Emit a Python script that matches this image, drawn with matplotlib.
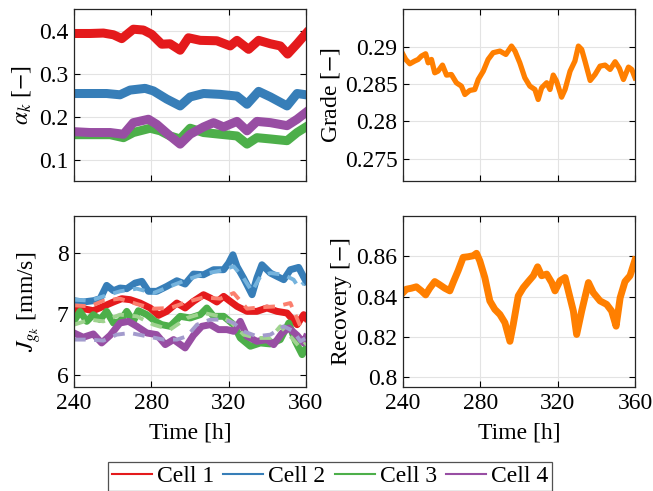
import numpy as np
import matplotlib
matplotlib.use("Agg")
import matplotlib.pyplot as plt

plt.rcParams['font.family'] = ['Liberation Serif', 'DejaVu Serif']
plt.rcParams['mathtext.fontset'] = 'stix'
plt.rcParams['font.size'] = 17

# couleurs des cellules
col_cell = ['#e41a1c', '#377eb8', '#4daf4a', '#984ea3']
col_ref = ['#fb7f6e', '#75b3dd', '#9fd38f', '#a39bcd']
col_orange = '#ff7f00'
noms = ['Cell 1', 'Cell 2', 'Cell 3', 'Cell 4']

# alpha_k des 4 cellules
t_a1 = [240, 248.3, 255.2, 260.4, 264.7, 270.7, 275.9, 280.2, 285.4, 289.7, 294.9, 299.2,
        305.3, 313.9, 320.8, 324.3, 330.3, 335.5, 341.6, 346.7, 350.5, 355.4, 360]
a1 = [0.394, 0.394, 0.395, 0.391, 0.382, 0.404, 0.402, 0.392, 0.369, 0.370, 0.355, 0.384,
      0.378, 0.377, 0.365, 0.378, 0.357, 0.378, 0.370, 0.365, 0.346, 0.370, 0.394]
t_a2 = [240, 248.3, 256.9, 263.8, 269.0, 276.8, 281.1, 288.0, 294.9, 300.1, 307.0, 315.6,
        324.3, 329.5, 335.5, 341.6, 350.2, 355.4, 360]
a2 = [0.254, 0.254, 0.254, 0.251, 0.262, 0.266, 0.260, 0.241, 0.225, 0.246, 0.254, 0.252,
      0.248, 0.229, 0.259, 0.246, 0.225, 0.254, 0.251]
t_a3 = [240, 248.3, 258.7, 265.6, 270.7, 279.4, 284.6, 289.7, 294.9, 300.1, 307.0, 315.6,
        324.3, 329.5, 334.6, 341.6, 350.2, 355.4, 360]
a3 = [0.158, 0.158, 0.158, 0.151, 0.163, 0.173, 0.167, 0.155, 0.148, 0.173, 0.163, 0.159,
      0.155, 0.136, 0.151, 0.148, 0.144, 0.163, 0.176]
t_a4 = [240, 248.3, 258.7, 265.6, 270.7, 278.5, 282.8, 289.7, 294.9, 300.1, 307.0, 312.2,
        317.4, 324.3, 329.5, 334.6, 341.6, 350.2, 355.4, 360]
a4 = [0.165, 0.163, 0.163, 0.159, 0.186, 0.194, 0.182, 0.155, 0.136, 0.159, 0.176, 0.186,
      0.176, 0.189, 0.167, 0.189, 0.186, 0.179, 0.194, 0.210]

# Jg mesures
t_j1 = [240, 244.8, 250.0, 255.2, 260.4, 264.7, 269.0, 274.2, 279.4, 283.7, 288.0, 293.2,
        297.5, 301.8, 307.0, 310.5, 313.9, 317.4, 320.8, 324.3, 329.5, 334.6, 339.8, 345.0,
        350.2, 355.4, 358.8, 360]
j1 = [7.071, 7.087, 7.054, 7.125, 7.196, 7.25, 7.234, 7.179, 7.098, 6.978, 7.043, 7.179,
      7.098, 7.207, 7.315, 7.261, 7.196, 7.288, 7.207, 7.125, 7.043, 7.043, 7.098, 7.043,
      7.016, 6.826, 6.989, 6.935]
t_j2 = [240, 244.8, 250.0, 253.5, 256.9, 260.4, 263.8, 267.3, 271.6, 275.1, 278.5, 282.8,
        288.0, 293.2, 297.5, 301.8, 307.0, 312.2, 317.4, 320.0, 322.2, 324.3, 327.7, 332.1,
        334.6, 337.2, 341.6, 345.0, 348.5, 351.9, 356.2, 360]
j2 = [7.217, 7.196, 7.217, 7.25, 7.467, 7.38, 7.424, 7.413, 7.505, 7.533, 7.37, 7.37,
      7.451, 7.543, 7.489, 7.652, 7.641, 7.723, 7.723, 7.832, 7.967, 7.777, 7.587, 7.315,
      7.587, 7.804, 7.668, 7.614, 7.56, 7.723, 7.761, 7.533]
t_j3 = [240, 243.1, 246.6, 250.0, 253.5, 256.9, 260.4, 263.8, 267.3, 270.7, 273.3, 277.7,
        282.0, 285.4, 289.7, 294.9, 300.1, 305.3, 308.7, 312.2, 317.4, 322.6, 326.0, 331.2,
        336.4, 341.6, 346.7, 351.1, 354.5, 358.0, 360]
j3 = [6.88, 7.043, 6.88, 6.989, 6.908, 7.043, 6.853, 6.88, 7.043, 6.88, 7.054, 6.989,
      6.88, 6.826, 6.799, 6.962, 6.935, 6.989, 7.098, 6.962, 6.962, 6.826, 6.609, 6.473,
      6.527, 6.511, 6.582, 6.853, 6.554, 6.337, 6.446]
t_j4 = [240, 244.8, 250.0, 254.3, 258.7, 263.8, 268.2, 272.5, 277.7, 282.8, 287.2, 291.5,
        297.5, 301.8, 306.1, 310.5, 314.8, 319.1, 322.6, 326.0, 329.5, 334.6, 339.8, 343.3,
        347.6, 351.1, 355.4, 358.8, 360]
j4 = [6.69, 6.62, 6.674, 6.527, 6.652, 6.853, 6.88, 6.799, 6.69, 6.663, 6.5, 6.582,
      6.446, 6.652, 6.799, 6.826, 6.745, 6.745, 6.717, 6.88, 6.636, 6.554, 6.582, 6.5,
      6.69, 6.772, 6.652, 6.527, 6.62]

# Jg consignes (pointillés)
t_r1 = [240, 248.3, 255.2, 263.8, 272.5, 281.1, 289.7, 298.4, 307.0, 315.6, 322.6, 329.5,
        336.4, 345.0, 351.9, 357.1, 360]
r1 = [7.141, 7.125, 7.217, 7.25, 7.163, 7.087, 7.098, 7.196, 7.272, 7.25, 7.342, 7.087,
      7.109, 7.125, 7.179, 6.799, 6.88]
t_r2 = [240, 248.3, 255.2, 263.8, 272.5, 281.1, 289.7, 298.4, 307.0, 315.6, 322.6, 327.7,
        332.1, 336.4, 341.6, 348.5, 353.6, 356.2, 358.8]
r2 = [7.234, 7.217, 7.288, 7.37, 7.413, 7.342, 7.451, 7.56, 7.652, 7.707, 7.777, 7.587,
      7.37, 7.614, 7.668, 7.641, 7.56, 7.435, 7.505]
t_r3 = [240, 248.3, 255.2, 263.8, 272.5, 281.1, 289.7, 298.4, 307.0, 315.6, 320.8, 327.7,
        334.6, 341.6, 346.7, 351.9, 357.1, 360]
r3 = [6.826, 6.908, 6.88, 6.989, 6.962, 6.826, 6.745, 6.935, 7.016, 6.962, 6.88, 6.663,
      6.609, 6.609, 6.799, 6.636, 6.446, 6.527]
t_r4 = [240, 248.3, 255.2, 262.1, 269.0, 277.7, 286.3, 293.2, 298.4, 303.6, 310.5, 317.4,
        322.6, 327.7, 334.6, 341.6, 348.5, 353.6, 357.1, 360]
r4 = [6.582, 6.582, 6.565, 6.663, 6.69, 6.636, 6.582, 6.582, 6.636, 6.826, 6.908, 6.908,
      6.853, 6.717, 6.636, 6.663, 6.799, 6.717, 6.554, 6.608]

# teneur du concentré
t_grade = [240, 241.4, 243.5, 246.0, 247.8, 249.5, 251.7, 253.0, 254.7, 256.4, 258.1, 260.4,
           262.5, 265.0, 267.6, 270.2, 272.0, 274.5, 277.1, 278.9, 281.5, 284.0, 286.6, 290.1,
           293.2, 296.1, 297.9, 300.4, 303.0, 305.6, 308.2, 309.9, 311.7, 314.3, 316.0, 317.7,
           319.4, 322.0, 323.8, 326.4, 328.9, 330.7, 332.4, 334.1, 336.8, 339.3, 341.9, 344.5,
           347.1, 349.7, 351.9, 354.0, 356.6, 358.3, 360]
grade = [0.28897, 0.2883, 0.28772, 0.28808, 0.2883, 0.28875, 0.28906, 0.28785, 0.2883,
         0.28651, 0.28673, 0.28754, 0.2862, 0.28628, 0.28517, 0.28472, 0.2836, 0.28414,
         0.28427, 0.28561, 0.28673, 0.2883, 0.2892, 0.28942, 0.28897, 0.29009, 0.28942,
         0.28785, 0.28584, 0.28472, 0.28427, 0.28293, 0.2845, 0.28517, 0.28427, 0.2862,
         0.28539, 0.28324, 0.28427, 0.28673, 0.28808, 0.29009, 0.28964, 0.28808, 0.28548,
         0.28628, 0.2874, 0.28754, 0.28696, 0.28799, 0.2871, 0.28561, 0.28727, 0.28696,
         0.28584]

# récupération
t_rec = [240, 241.7, 244.3, 246.9, 249.5, 251.7, 253.8, 256.4, 259.0, 261.6, 264.2, 265.9,
         268.5, 271.1, 273.7, 276.3, 278.0, 279.7, 282.3, 284.9, 287.5, 290.1, 292.7, 295.3,
         297.0, 299.6, 302.2, 304.8, 307.4, 309.6, 311.7, 314.3, 316.9, 318.6, 321.2, 323.8,
         325.5, 328.1, 329.8, 332.4, 335.9, 338.4, 341.9, 345.3, 347.9, 350.2, 352.3, 354.8,
         357.4, 360]
rec = [0.842, 0.8437, 0.8442, 0.8449, 0.8429, 0.8409, 0.8442, 0.8475, 0.8459, 0.8442,
       0.8429, 0.847, 0.8529, 0.8595, 0.8598, 0.8603, 0.8615, 0.8578, 0.8495, 0.8379,
       0.8337, 0.8312, 0.8271, 0.8179, 0.8262, 0.8404, 0.8445, 0.8475, 0.8504, 0.8548,
       0.8504, 0.8512, 0.847, 0.8429, 0.8479, 0.8495, 0.8429, 0.8329, 0.8213, 0.8329,
       0.847, 0.842, 0.8379, 0.8362, 0.8329, 0.8254, 0.8395, 0.8475, 0.8504, 0.8582]

xticks = [240, 280, 320, 360]


def styleAxe(ax):
    ax.set_xlim(240, 360)
    ax.set_xticks(xticks)
    ax.grid(True, color='#e3e3e3', linewidth=0.8)
    ax.set_axisbelow(True)
    ax.tick_params(direction='in', top=True, right=True, length=4, width=0.8, pad=4)
    for s in ax.spines.values():
        s.set_linewidth(0.9)
        s.set_color('#262626')


fig = plt.figure(figsize=(6.53, 4.91), dpi=100)
ax1 = fig.add_axes([0.1133, 0.6314, 0.3553, 0.3493])
ax2 = fig.add_axes([0.6172, 0.6314, 0.3553, 0.3493])
ax3 = fig.add_axes([0.1133, 0.2108, 0.3553, 0.3493])
ax4 = fig.add_axes([0.6172, 0.2108, 0.3553, 0.3493])

# alpha
for t, a, c, n in zip([t_a1, t_a2, t_a3, t_a4], [a1, a2, a3, a4], col_cell, noms):
    ax1.plot(t, a, color=c, linewidth=6.5, solid_joinstyle='round', label=n)
styleAxe(ax1)
ax1.set_ylim(0.05, 0.45)
ax1.set_yticks([0.1, 0.2, 0.3, 0.4])
ax1.set_yticklabels(['0.1', '0.2', '0.3', '0.4'])
ax1.set_xticklabels([])
ax1.set_ylabel(r'$\alpha_k$ [$-$]', labelpad=4)

# grade
ax2.plot(t_grade, grade, color=col_orange, linewidth=3.8, solid_joinstyle='round')
styleAxe(ax2)
ax2.set_ylim(0.272, 0.295)
ax2.set_yticks([0.275, 0.28, 0.285, 0.29])
ax2.set_yticklabels(['0.275', '0.28', '0.285', '0.29'])
ax2.set_xticklabels([])
ax2.set_ylabel(r'Grade [$-$]', labelpad=2)

# Jg
for t, j, c in zip([t_j1, t_j2, t_j3, t_j4], [j1, j2, j3, j4], col_cell):
    ax3.plot(t, j, color=c, linewidth=5, solid_joinstyle='round')
for t, r, c in zip([t_r1, t_r2, t_r3, t_r4], [r1, r2, r3, r4], col_ref):
    ax3.plot(t, r, color=c, linewidth=2.8, linestyle=(0, (3, 2.2)))
styleAxe(ax3)
ax3.set_ylim(5.8, 8.6)
ax3.set_yticks([6, 7, 8])
ax3.set_ylabel(r'$J_{g_k}$ [mm/s]', labelpad=10)
ax3.set_xlabel('Time [h]', labelpad=6)

# recovery
ax4.plot(t_rec, rec, color=col_orange, linewidth=5, solid_joinstyle='round')
styleAxe(ax4)
ax4.set_ylim(0.795, 0.88)
ax4.set_yticks([0.8, 0.82, 0.84, 0.86])
ax4.set_yticklabels(['0.8', '0.82', '0.84', '0.86'])
ax4.set_ylabel(r'Recovery [$-$]', labelpad=2)
ax4.set_xlabel('Time [h]', labelpad=6)

leg_handles = [plt.Line2D([], [], color=c, linewidth=1.5) for c in col_cell]
leg = fig.legend(leg_handles, noms, loc='center', bbox_to_anchor=(0.5054, 0.030), ncol=4,
                 frameon=True, fancybox=False, edgecolor='#262626', handlelength=1.7,
                 handletextpad=0.2, columnspacing=0.4, borderpad=0.15, borderaxespad=0)
leg.get_frame().set_linewidth(0.9)

fig.savefig('out.png', dpi=100)
